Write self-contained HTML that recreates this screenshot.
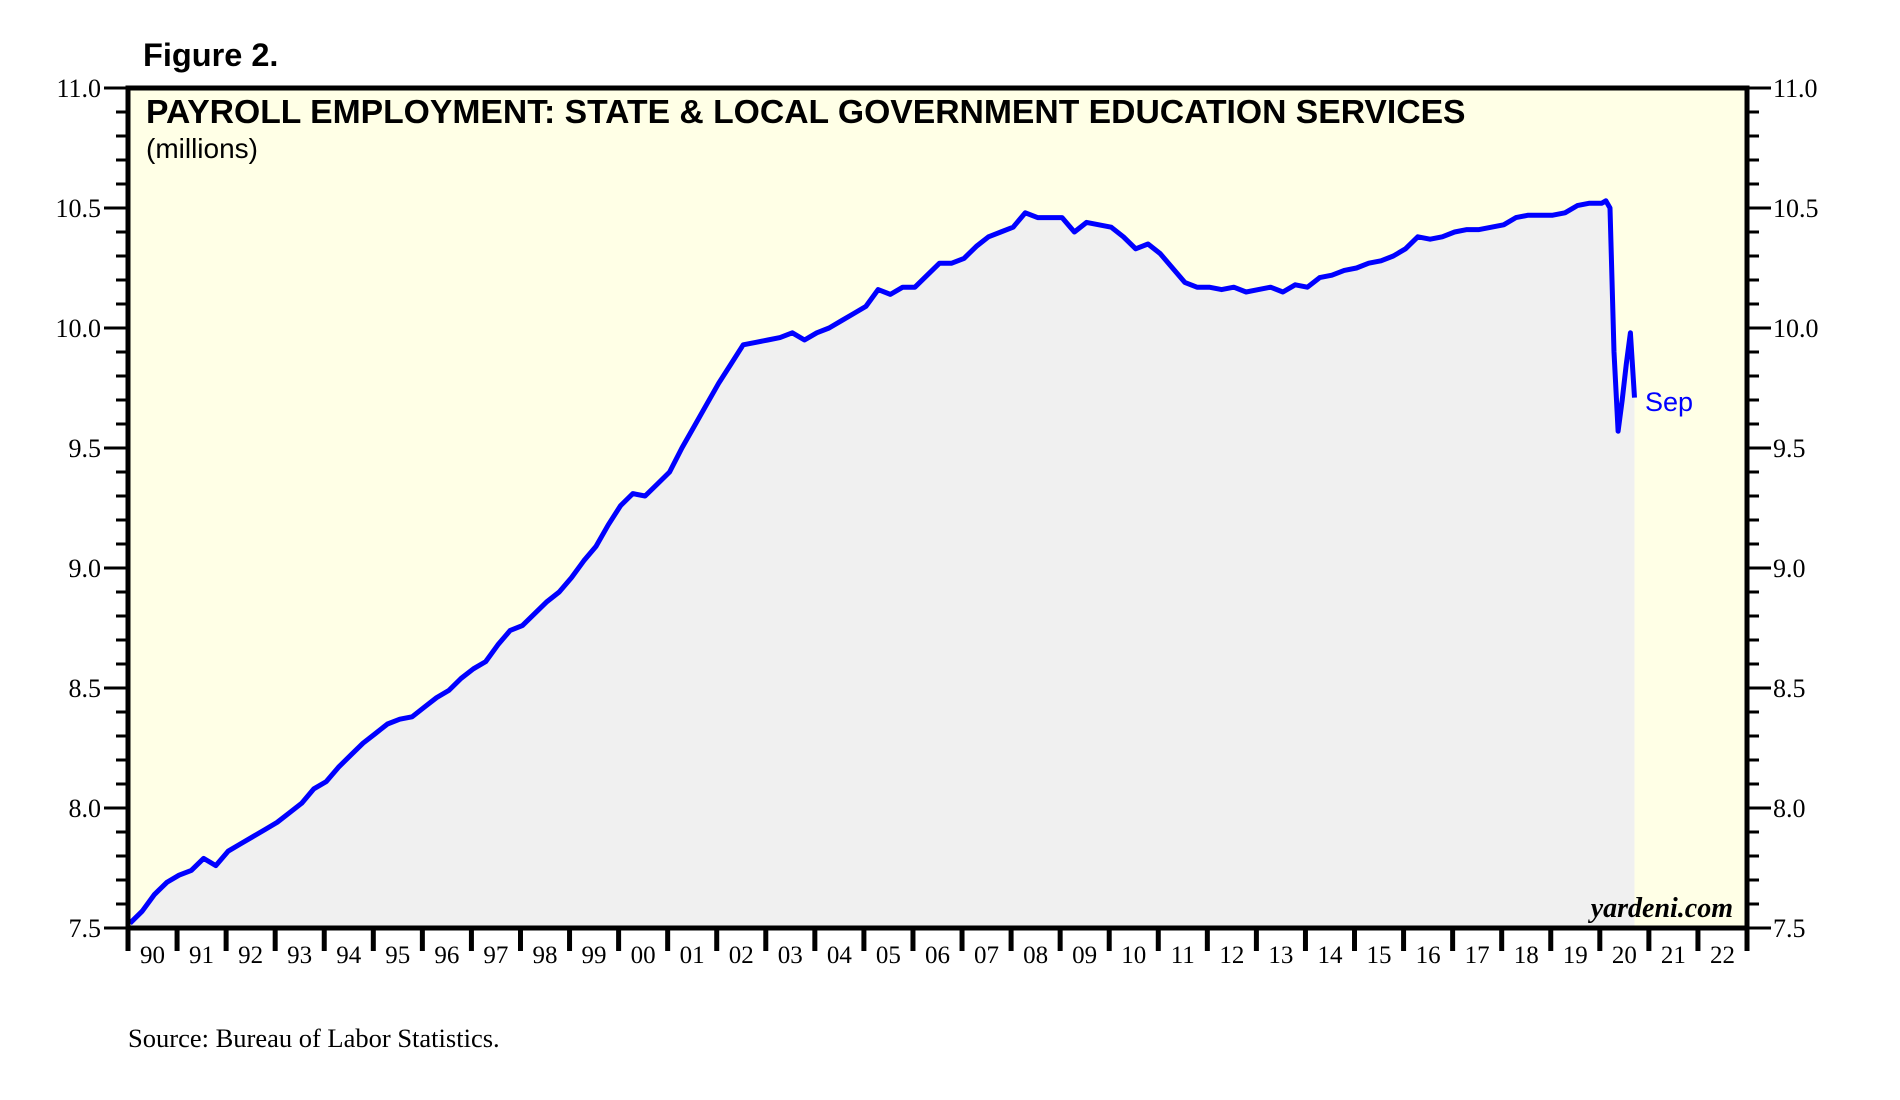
<!DOCTYPE html>
<html><head><meta charset="utf-8">
<style>
html,body{margin:0;padding:0;background:#fff;}
svg{display:block;}
</style></head>
<body>
<svg id="chart" width="1900" height="1100" viewBox="0 0 1900 1100" xmlns="http://www.w3.org/2000/svg">
<text x="143" y="66" font-family="Liberation Sans, sans-serif" font-weight="bold" font-size="32.5">Figure 2.</text>
<rect x="128" y="88" width="1619" height="840" fill="#ffffe6"/>
<path id="area" fill="#f0f0f0"/>
<path id="line" fill="none" stroke="#0000ff" stroke-width="5" stroke-linejoin="round"/>
<g id="ticks"></g>
<rect x="128" y="88" width="1619" height="840" fill="none" stroke="#000" stroke-width="5"/>
<text x="146" y="123" font-family="Liberation Sans, sans-serif" font-weight="bold" font-size="33.7">PAYROLL EMPLOYMENT: STATE &amp; LOCAL GOVERNMENT EDUCATION SERVICES</text>
<text x="146" y="158" font-family="Liberation Sans, sans-serif" font-size="28">(millions)</text>
<text x="1645" y="411" font-family="Liberation Sans, sans-serif" font-size="27" fill="#0000ff">Sep</text>
<text x="1733" y="917" text-anchor="end" font-family="Liberation Serif, serif" font-style="italic" font-weight="bold" font-size="28">yardeni.com</text>
<text x="128" y="1047" font-family="Liberation Serif, serif" font-size="26.5">Source: Bureau of Labor Statistics.</text>
</svg>
<script>
const startYear=1990;
const quarterlyValues=[
7.52,7.57,7.64,7.69, 7.72,7.74,7.79,7.76, 7.82,7.85,7.88,7.91, 7.94,7.98,8.02,8.08,
8.11,8.17,8.22,8.27, 8.31,8.35,8.37,8.38, 8.42,8.46,8.49,8.54, 8.58,8.61,8.68,8.74,
8.76,8.81,8.86,8.90, 8.96,9.03,9.09,9.18, 9.26,9.31,9.30,9.35, 9.40,9.50,9.59,9.68,
9.77,9.85,9.93,9.94, 9.95,9.96,9.98,9.95, 9.98,10.00,10.03,10.06, 10.09,10.16,10.14,10.17,
10.17,10.22,10.27,10.27, 10.29,10.34,10.38,10.40, 10.42,10.48,10.46,10.46, 10.46,10.40,10.44,10.43,
10.42,10.38,10.33,10.35, 10.31,10.25,10.19,10.17, 10.17,10.16,10.17,10.15, 10.16,10.17,10.15,10.18,
10.17,10.21,10.22,10.24, 10.25,10.27,10.28,10.30, 10.33,10.38,10.37,10.38, 10.40,10.41,10.41,10.42,
10.43,10.46,10.47,10.47, 10.47,10.48,10.51,10.52];
const monthly2020=[10.52,10.53,10.50,9.90,9.57,9.70,9.85,9.98,9.71];
const yTicks=[7.5,8.0,8.5,9.0,9.5,10.0,10.5,11.0];
const yearLabels=["90","91","92","93","94","95","96","97","98","99","00","01","02","03","04","05","06","07","08","09","10","11","12","13","14","15","16","17","18","19","20","21","22"];

const X0=128,X1=1747,Y0=928,Y1=88;
function xScale(d){return X0+(d-1990)/33*(X1-X0);}
function yScale(v){return Y0-(v-7.5)/3.5*(Y0-Y1);}

const series=[];
quarterlyValues.forEach((v,i)=>series.push([startYear+i*0.25+0.04,v]));
monthly2020.forEach((v,i)=>series.push([2020+i/12+0.04,v]));
let pts=series.map(p=>xScale(p[0]).toFixed(1)+","+yScale(p[1]).toFixed(1));
document.getElementById('line').setAttribute('d','M'+pts.join('L'));
document.getElementById('area').setAttribute('d','M'+xScale(series[0][0])+','+Y0+'L'+pts.join('L')+'L'+xScale(series[series.length-1][0])+','+Y0+'Z');

const g=document.getElementById('ticks');
const NS='http://www.w3.org/2000/svg';
function mk(tag,attrs){const e=document.createElementNS(NS,tag);for(const k in attrs)e.setAttribute(k,attrs[k]);g.appendChild(e);return e;}
for(let k=0;k<=35;k++){
  const v=7.5+k*0.1;const y=yScale(v);const major=(k%5===0);
  const l=mk('line',{x1:major?X0-24:X0-12,x2:X0,y1:y,y2:y,stroke:'#000','stroke-width':3});
  
  
  const r=mk('line',{x1:X1,x2:major?X1+24:X1+12,y1:y,y2:y,stroke:'#000','stroke-width':3});
  
  
}
yTicks.forEach(v=>{
  const y=yScale(v)+9;
  const a=mk('text',{x:X0-27,y:y,'text-anchor':'end','font-family':'Liberation Serif, serif','font-size':26});
  a.textContent=v.toFixed(1);
  
  
  const b=mk('text',{x:X1+26,y:y,'font-family':'Liberation Serif, serif','font-size':26});
  b.textContent=v.toFixed(1);
  
  
});
yearLabels.forEach((s,i)=>{
  const x=xScale(1990+i);
  const t=mk('line',{x1:x,x2:x,y1:Y0,y2:Y0+23,stroke:'#000','stroke-width':5});
  
  
  const lb=mk('text',{x:x+24.5,y:963,'text-anchor':'middle','font-family':'Liberation Serif, serif','font-size':25});
  lb.textContent=s;
  
  
});
const last=mk('line',{x1:X1,x2:X1,y1:Y0,y2:Y0+23,stroke:'#000','stroke-width':5});


</script>
</body></html>
